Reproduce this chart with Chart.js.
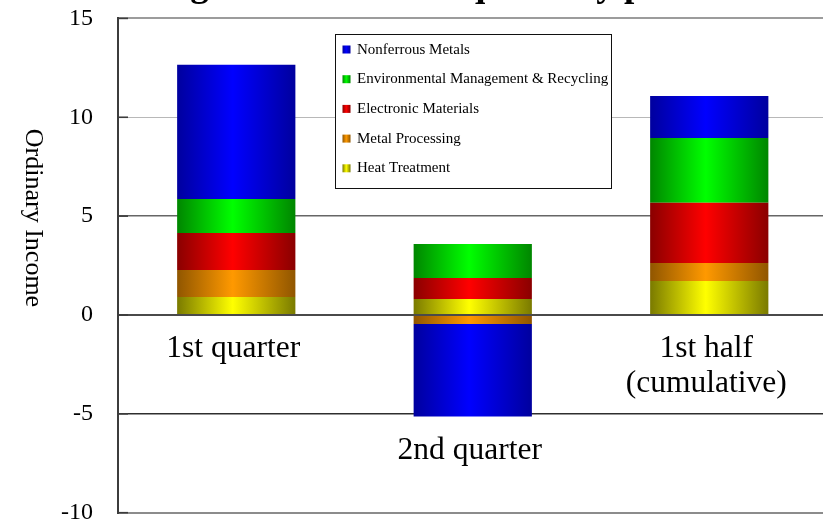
<!DOCTYPE html>
<html>
<head>
<meta charset="utf-8">
<title>Segment Income in quarterly period</title>
<script src="https://cdn.jsdelivr.net/npm/chart.js@4.4.1/dist/chart.umd.min.js"></script>
<style>
  html, body { margin: 0; padding: 0; background: #ffffff; overflow: hidden; width: 823px; height: 521px; }
  #wrap { position: absolute; left: 0; top: -50px; width: 880px; height: 610px; }
</style>
</head>
<body>
<div id="wrap"><canvas id="chart"></canvas></div>
<script>
// Periods (multi-line labels are drawn under each stack)
const categories = [['1st quarter'], ['2nd quarter'], ['1st half', '(cumulative)']];

// Ordinary income per segment and period
const heatTreatment       = [0.91, 0.81, 1.72];
const metalProcessing     = [1.37, -0.46, 0.91];
const electronicMaterials = [1.87, 1.06, 3.04];
const envRecycling        = [1.72, 1.72, 3.28];
const nonferrousMetals    = [6.78, -4.68, 2.13];

// Segment names, bottom of the stack first
const segmentNames = ['Heat Treatment', 'Metal Processing', 'Electronic Materials',
                      'Environmental Management & Recycling', 'Nonferrous Metals'];

// Value axis
const yMin = -10, yMax = 15, yStep = 5;
const chartTitle = 'Segment Income in quarterly period';
const yAxisTitle = 'Ordinary Income';

// Cylinder-like shading: bright centre, darker edges
const brightColors = ['#ffff00', '#ff9900', '#ff0000', '#00ff00', '#0000ff'];
const edgeColors   = ['#7a7a00', '#905600', '#8a0000', '#008600', '#00009e'];

const SERIF = '"Liberation Serif", "Times New Roman", serif';
const BAR_FRACTION = 0.5;

function shade(g, i) {
  g.addColorStop(0, edgeColors[i]);
  g.addColorStop(0.47, brightColors[i]);
  g.addColorStop(1, edgeColors[i]);
  return g;
}

function barFill(i) {
  return (ctx) => {
    const chart = ctx.chart;
    const xs = chart.scales && chart.scales.x;
    if (ctx.type !== 'data' || !xs || !chart.chartArea) return brightColors[i];
    const c = xs.getPixelForValue(ctx.dataIndex);
    const half = xs.width / categories.length * BAR_FRACTION / 2;
    return shade(chart.ctx.createLinearGradient(c - half, 0, c + half, 0), i);
  };
}

const seriesValues = [heatTreatment, metalProcessing, electronicMaterials, envRecycling, nonferrousMetals];

// Axis line styling per value
const gridStyle = {
  '15':  ['#9c9c9c', 2],
  '10':  ['#b8b8b8', 1],
  '5':   ['#666666', 1.5],
  '0':   ['#4a4a4a', 2],
  '-5':  ['#2e2e2e', 1.5],
  '-10': ['#8c8c8c', 2]
};

const decorations = {
  id: 'decorations',
  afterDraw(chart) {
    const ctx = chart.ctx;
    const area = chart.chartArea;
    const xs = chart.scales.x;
    const ys = chart.scales.y;
    ctx.save();

    // title
    ctx.fillStyle = '#000';
    ctx.font = 'bold 37px ' + SERIF;
    ctx.textAlign = 'center';
    ctx.textBaseline = 'alphabetic';
    ctx.fillText(chartTitle, chart.width / 2, area.top - 22.4);

    // inward tick marks on the value axis
    ctx.strokeStyle = '#3c3c3c';
    ctx.lineWidth = 1.6;
    ys.ticks.forEach(t => {
      const py = ys.getPixelForValue(t.value);
      ctx.beginPath();
      ctx.moveTo(area.left, py);
      ctx.lineTo(area.left + 10, py);
      ctx.stroke();
    });

    // value-axis title, reading downwards
    ctx.save();
    ctx.translate(33, area.top + 199.6);
    ctx.rotate(Math.PI / 2);
    ctx.font = '26px ' + SERIF;
    ctx.textAlign = 'center';
    ctx.textBaseline = 'middle';
    ctx.fillStyle = '#000';
    ctx.fillText(yAxisTitle, 0, 0);
    ctx.restore();

    // period labels under each stack
    ctx.font = '31.5px ' + SERIF;
    ctx.textAlign = 'center';
    ctx.textBaseline = 'alphabetic';
    ctx.fillStyle = '#000';
    categories.forEach((lines, i) => {
      let bottom = ys.getPixelForValue(0);
      chart.data.datasets.forEach((ds, d) => {
        const el = chart.getDatasetMeta(d).data[i];
        if (el) bottom = Math.max(bottom, el.y, el.base);
      });
      const cx = xs.getPixelForValue(i) - 3;
      lines.forEach((line, k) => ctx.fillText(line, cx, bottom + 42 + k * 35));
    });

    // legend box
    const bx = Math.round(area.left + 217) + 0.5;
    const by = Math.round(area.top + 15.6) + 0.5;
    const bw = 276, bh = 154;
    ctx.fillStyle = '#ffffff';
    ctx.fillRect(bx, by, bw, bh);
    ctx.strokeStyle = '#111';
    ctx.lineWidth = 1;
    ctx.strokeRect(bx, by, bw, bh);
    ctx.font = '15px ' + SERIF;
    ctx.textAlign = 'left';
    ctx.textBaseline = 'alphabetic';
    const order = chart.data.datasets.map((d, i) => i).reverse();
    order.forEach((di, row) => {
      const base = by + 19 + row * 29.7;
      const mx = bx + 7, mw = 8;
      ctx.fillStyle = shade(ctx.createLinearGradient(mx, 0, mx + mw, 0), di);
      ctx.fillRect(mx, base - 8, mw, 8);
      ctx.fillStyle = '#000';
      ctx.fillText(chart.data.datasets[di].label, bx + 21.5, base);
    });

    ctx.restore();
  }
};

new Chart(document.getElementById('chart'), {
  type: 'bar',
  data: {
    labels: categories,
    datasets: seriesValues.map((vals, i) => ({
      label: segmentNames[i],
      data: vals,
      backgroundColor: barFill(i),
      borderWidth: 0,
      categoryPercentage: BAR_FRACTION,
      barPercentage: 1
    }))
  },
  options: {
    responsive: true,
    maintainAspectRatio: false,
    animation: false,
    layout: { padding: { top: 68.4, right: 52.5, bottom: 47.3, left: 0 } },
    plugins: {
      legend: { display: false },
      title: { display: false },
      tooltip: { enabled: false }
    },
    scales: {
      x: {
        stacked: true,
        display: false
      },
      y: {
        stacked: true,
        min: yMin,
        max: yMax,
        afterFit(scale) { scale.width = 118; },
        ticks: {
          stepSize: yStep,
          padding: 25,
          color: '#000',
          font: { family: SERIF, size: 24 }
        },
        grid: {
          drawTicks: false,
          color: (c) => (gridStyle[String(c.tick && c.tick.value)] || ['#b8b8b8'])[0],
          lineWidth: (c) => (gridStyle[String(c.tick && c.tick.value)] || [0, 1])[1]
        },
        border: { display: true, color: '#3c3c3c', width: 2 }
      }
    }
  },
  plugins: [decorations]
});
</script>
</body>
</html>
